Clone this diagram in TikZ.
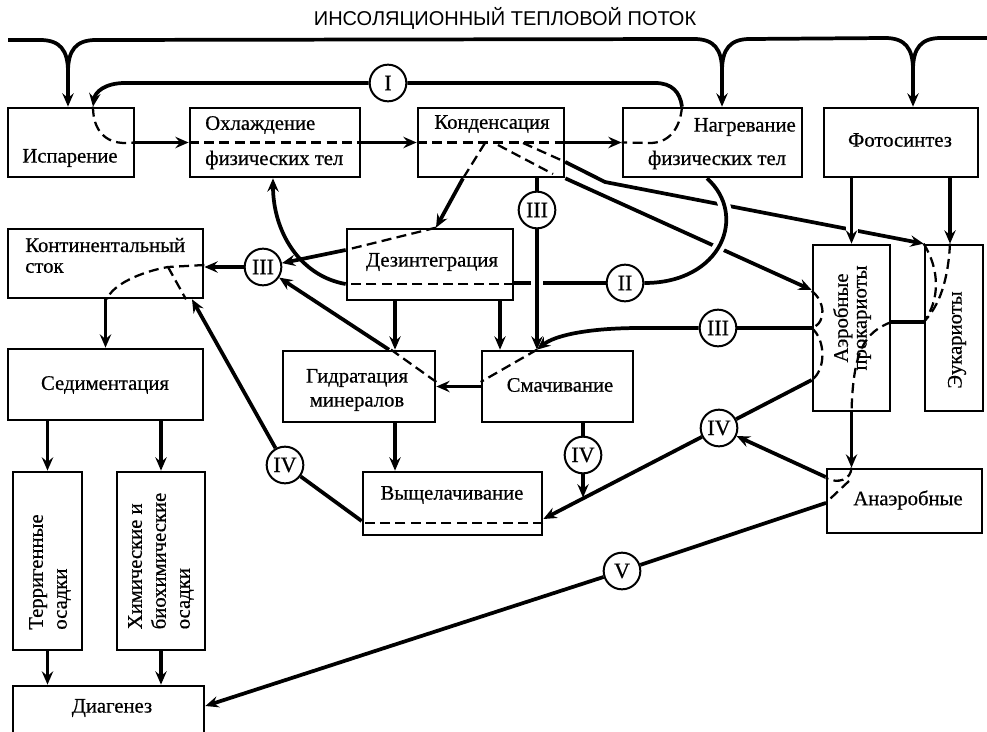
\documentclass[tikz,border=0pt]{standalone}
\usepackage{fontspec}
\setmainfont{Liberation Serif}
\setsansfont{Liberation Sans}
\newfontfamily\lblfont{Liberation Serif}[FakeBold=0.6]
\usetikzlibrary{arrows.meta,backgrounds}

\begin{document}
\begin{tikzpicture}[x=0.75pt,y=0.75pt,yscale=-1,xscale=1,
  blk/.style 2 args={draw,line width=2pt,inner sep=0pt,minimum width=#1*0.75pt,minimum height=#2*0.75pt},
  lbl/.style={inner sep=0.75pt,font=\lblfont\fontsize{15.5}{18}\selectfont},
  num/.style={circle,draw,line width=1.5pt,fill=white,minimum size=27.5pt,inner sep=0pt,font=\lblfont\fontsize{16.5}{18}\selectfont},
  flow/.style={line width=2.8pt},
  arr/.style={flow,-{Stealth[length=10pt,width=8.5pt,inset=3.5pt]}},
  dsh/.style={line width=1.7pt,dash pattern=on 7.5pt off 4pt},
  over/.style={preaction={draw=white,line width=9pt,-}}]
\useasboundingbox (0,0) rectangle (987,731);

% Title
\node[font=\sffamily\fontsize{15}{17}\selectfont] (ttl) at (505,18) {ИНСОЛЯЦИОННЫЙ ТЕПЛОВОЙ ПОТОК};

% Boxes
\node[blk={126}{69}] (isp) at (71,142.5) {};
\node[blk={170}{69}] (ohl) at (275,142.5) {};
\node[blk={146}{69}] (kon) at (491,142.5) {};
\node[blk={179}{69}] (nag) at (712.5,142.5) {};
\node[blk={154}{69}] (fot) at (901,142.5) {};
\node[blk={195}{69}] (kst) at (105.5,263.5) {};
\node[blk={166}{71}] (dez) at (430,264.5) {};
\node[blk={195}{71}] (sed) at (105.5,384.5) {};
\node[blk={152}{71}] (gid) at (359,386.5) {};
\node[blk={151}{71}] (sma) at (557.5,386.5) {};
\node[blk={77}{166}] (aer) at (851.5,328) {};
\node[blk={58}{166}] (euk) at (954,328) {};
\node[blk={179}{63}] (vys) at (452.5,503.5) {};
\node[blk={155}{64}] (ana) at (904.5,501) {};
\node[blk={69}{178}] (ter) at (47.5,561) {};
\node[blk={88}{178}] (him) at (161,561) {};
\node[blk={191}{60}] (dia) at (108.5,716) {};

% Text Node
\node[lbl] (tisp) at (70,158) {Испарение};
\node[lbl,anchor=west] (tohl1) at (204,125) {Охлаждение};
\node[lbl,anchor=west] (tohl2) at (204,160) {физических тел};
\node[lbl] (tkon) at (492,124) {Конденсация};
\node[lbl,anchor=east] (tnag1) at (797,127) {Нагревание};
\node[lbl] (tnag2) at (717,160) {физических тел};
\node[lbl] (tfot) at (900,140) {Фотосинтез};
\node[lbl,anchor=west] (tkst1) at (24,245) {Континентальный};
\node[lbl,anchor=west] (tkst2) at (24,268) {сток};
\node[lbl] (tdez) at (432,262) {Дезинтеграция};
\node[lbl] (tsed) at (105,385) {Седиментация};
\node[lbl,align=center] (tgid) at (357,390) {Гидратация\\минералов};
\node[lbl] (tsma) at (560,385) {Смачивание};
\node[lbl,rotate=90,align=center] (taer) at (852,318) {Аэробные\\[-4pt]прокариоты};
\node[lbl,rotate=90] (teuk) at (957,340) {Эукариоты};
\node[lbl] (tvys) at (452,495) {Выщелачивание};
\node[lbl] (tana) at (908,500) {Анаэробные};
\node[lbl,rotate=90,align=left] (tter) at (50,572) {Терригенные\\осадки};
\node[lbl,rotate=90,align=left] (thim) at (161,561) {Химические и\\биохимические\\осадки};
\node[lbl] (tdia) at (112,708) {Диагенез};

% Circles
\node[num] (c1) at (388,83) {I};
\node[num] (c3a) at (537,210) {III};
\node[num] (c3b) at (263,267) {III};
\node[num] (c2) at (625,283) {II};
\node[num] (c3c) at (718,328) {III};
\node[num] (c4a) at (719,428) {IV};
\node[num] (c4b) at (583,455) {IV};
\node[num] (c4c) at (285,465) {IV};
\node[num] (c5) at (622,571) {V};

\coordinate (sunL) at (8,40);
\coordinate (sunR) at (987,38);
\coordinate (hit) at (583,497.5);

\begin{scope}[on background layer]
% insolation flow
\draw[flow] (sunL) -- (40,40) .. controls (60,40) and (68,50) .. (68,72) .. controls (68,50) and (76,40) .. (96,40) -- (694,39) .. controls (714,39) and (722,49) .. (722,71) .. controls (722,49) and (730,39) .. (750,39) -- (885,38) .. controls (905,38) and (913,48) .. (913,70) .. controls (913,48) and (921,38) .. (941,38) -- (sunR);
\draw[arr] (68,70) -- (isp.north -| 68,0);
\draw[arr] (722,69) -- (nag.north -| 722,0);
\draw[arr] (913,68) -- (fot.north -| 913,0);

% loop I
\draw[flow] (nag.north -| 682,0) .. controls (680,92) and (672,83) .. (655,83) -- (c1);
\draw[arr] (c1) -- (125,83) .. controls (105,83) and (95,92) .. (isp.north -| 93,0);
\draw[dsh] (isp.north -| 93,0) .. controls (93,130) and (105,143) .. (125,143) -- (isp.east);
\draw[arr] (isp.east) -- (ohl.west);
\draw[dsh] (ohl.west) -- (ohl.east);
\draw[arr] (ohl.east) -- (kon.west);
\draw[dsh] (kon.west) -- (kon.east);
\draw[arr] (kon.east) -- (nag.west);
\draw[dsh] (nag.north -| 682,0) .. controls (680,130) and (668,143) .. (650,143) -- (nag.west);

% from condensation
\draw[dsh] (485,143) -- (kon.south -| 463,0);
\draw[arr] (kon.south -| 463,0) -- (dez.north -| 436,0);
\draw[dsh] (498,145) -- (553,174);
\draw[arr] (kon.south east) -- (aer.west |- 0,290);
\draw[dsh] (523,143) -- (kon.east |- 0,162);
\draw[arr] (kon.east |- 0,162) -- (605,182) -- (euk.north west);
\draw[dsh] (dez.north -| 436,0) -- (dez.west |- 0,250);
\draw[arr,over] (dez.west |- 0,250) -- (c3b);

% loop II
\draw[flow,over] (nag.south -| 707,0) .. controls (748,215) and (722,283) .. (c2.east);
\draw[flow] (c2) -- (dez.east |- c2);
\draw[dsh] (dez.east |- 0,284) -- (dez.west |- 0,284);
\draw[arr] (dez.west |- 0,284) .. controls (300,276) and (273,232) .. (ohl.south -| 273,0);

% III down to wetting
\draw[flow] (kon.south -| c3a) -- (c3a);
\draw[arr,over] (c3a) -- (sma.north -| c3a);
\draw[flow] (aer.west |- 0,328) -- (c3c);
\draw[arr] (c3c) -- (640,328) .. controls (590,328) and (555,335) .. (sma.north -| c3a);

% photosynthesis and organisms
\draw[arr,over] (fot.south -| aer.north) -- (aer.north);
\draw[arr] (fot.south -| 950,0) -- (euk.north -| 950,0);
\draw[dsh] (euk.north west) .. controls (940,270) and (940,300) .. (euk.west |- 0,322);
\draw[dsh] (euk.north -| 950,0) .. controls (948,280) and (940,305) .. (euk.west |- 0,322);
\draw[flow] (euk.west |- 0,322) -- (aer.east |- 0,322);
\draw[dsh] (aer.east |- 0,322) .. controls (865,332) and (853,350) .. (aer.south);
\draw[dsh] (aer.west |- 0,291) .. controls (824,300) and (828,322) .. (aer.west |- 0,328);
\draw[dsh] (aer.west |- 0,328) .. controls (826,340) and (826,370) .. (aer.west |- 0,380);
\draw[arr] (aer.south) -- (ana.north -| aer.south);

% continental runoff
\draw[arr] (c3b) -- (kst.east |- c3b);
\draw[dsh] (kst.east |- 0,265) -- (168,267) .. controls (140,272) and (112,285) .. (kst.south -| 107,0);
\draw[dsh] (168,267) -- (kst.south -| 186,0);
\draw[arr] (kst.south) -- (sed.north);

% hydration, wetting
\draw[arr] (dez.south -| 395,0) -- (gid.north -| 395,0);
\draw[arr] (dez.south -| 500,0) -- (sma.north -| 500,0);
\draw[arr] (sma.west) -- (gid.east);
\draw[dsh] (sma.north -| c3a) -- (sma.west |- 0,382);
\draw[dsh] (gid.east |- 0,382) -- (gid.north -| 391,0);
\draw[arr] (gid.north -| 389,0) -- (c3b);
\draw[arr] (gid.south -| 395,0) -- (vys.north -| 395,0);

% IV
\draw[flow] (sma.south -| c4b) -- (c4b);
\draw[arr] (c4b) -- (hit);
\draw[flow] (aer.west |- 0,380) -- (c4a);
\draw[arr] (c4a) -- (vys.east |- 0,519);
\draw[dsh] (vys.east |- 0,523) -- (vys.west |- 0,523);
\draw[flow] (vys.west |- 0,521) -- (c4c);
\draw[arr] (c4c) -- (kst.south -| 192,0);
\draw[arr] (ana.west |- 0,477) -- (c4a);
\draw[dsh] (ana.north -| aer.south) .. controls (851,480) and (838,484) .. (ana.west |- 0,478);
\draw[dsh] (849,481) -- (ana.west |- 0,503);

% V
\draw[flow] (ana.west |- 0,503) -- (c5);
\draw[arr] (c5) -- (dia.east |- 0,706);

% sediments
\draw[arr] (sed.south -| ter.north) -- (ter.north);
\draw[arr] (sed.south -| him.north) -- (him.north);
\draw[arr] (ter.south) -- (dia.north -| ter.south);
\draw[arr] (him.south) -- (dia.north -| him.south);
\end{scope}

\end{tikzpicture}
\end{document}
